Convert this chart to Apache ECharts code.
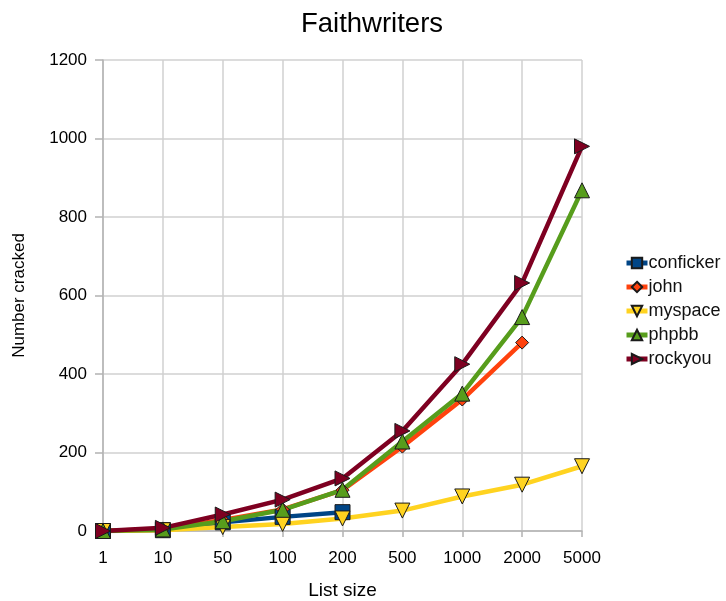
<!DOCTYPE html>
<html>
<head>
<meta charset="utf-8">
<script src="https://cdn.jsdelivr.net/npm/echarts@6/dist/echarts.min.js"></script>
<style>
  html, body { margin: 0; padding: 0; background: #fff; }
  #chart { width: 726px; height: 601px; }
</style>
</head>
<body>
<div id="chart"></div>
<script>
const listSizes = ['1', '10', '50', '100', '200', '500', '1000', '2000', '5000'];
const conficker = [0, 2, 22, 36, 48];
const john = [0, 5, 28, 55, 104, 215, 335, 480];
const myspace = [0, 2, 10, 18, 32, 52, 88, 118, 165];
const phpbb = [0, 4, 25, 54, 105, 228, 350, 545, 868];
const rockyou = [0, 8, 42, 80, 134, 255, 425, 632, 980];

const chart = echarts.init(document.getElementById('chart'));

function line(name, data, color, symbol, rotate) {
  return {
    name: name,
    type: 'line',
    data: data,
    symbol: symbol,
    symbolSize: symbol === 'diamond' ? 13 : 15,
    symbolRotate: rotate || 0,
    showAllSymbol: true,
    lineStyle: { color: color, width: 4.5 },
    itemStyle: { color: color, borderColor: '#1a1a1a', borderWidth: 1 },
    emphasis: { disabled: true },
    animation: false
  };
}

chart.setOption({
  backgroundColor: '#fff',
  textStyle: { fontFamily: 'Liberation Sans' },
  title: {
    text: 'Faithwriters',
    left: 367,
    textAlign: 'center',
    top: 5,
    textStyle: { fontSize: 27.5, fontWeight: 'normal', color: '#000', fontFamily: 'Liberation Sans' }
  },
  legend: {
    orient: 'vertical',
    left: 624,
    top: 254,
    padding: 0,
    itemGap: 6,
    itemWidth: 21,
    itemHeight: 13,
    lineStyle: { width: 5 },
    textStyle: { fontSize: 18, color: '#111', padding: [0, 0, 0, -4] },
    data: ['conficker', 'john', 'myspace', 'phpbb', 'rockyou']
  },
  grid: { left: 103, right: 144, top: 60, bottom: 70, outerBoundsMode: 'none' },
  xAxis: {
    type: 'category',
    data: listSizes,
    boundaryGap: false,
    name: 'List size',
    nameLocation: 'middle',
    nameGap: 50,
    nameTextStyle: { fontSize: 19, color: '#000' },
    axisLine: { lineStyle: { color: '#b3b3b3', width: 1.5 } },
    axisTick: { show: true, alignWithLabel: true, length: 6, lineStyle: { color: '#b3b3b3', width: 1.5 } },
    axisLabel: { fontSize: 17, color: '#000', margin: 19 },
    splitLine: { show: true, lineStyle: { color: '#d0d0d0', width: 1.5 } }
  },
  yAxis: {
    type: 'value',
    min: 0,
    max: 1200,
    interval: 200,
    name: 'Number cracked',
    nameLocation: 'middle',
    nameGap: 75,
    nameTextStyle: { fontSize: 17, color: '#000' },
    axisLine: { show: true, lineStyle: { color: '#b3b3b3', width: 1.5 } },
    axisTick: { show: true, length: 8, lineStyle: { color: '#b3b3b3', width: 1.5 } },
    axisLabel: { fontSize: 17, color: '#000', margin: 16, formatter: (v) => String(v) },
    splitLine: { show: true, lineStyle: { color: '#d0d0d0', width: 1.5 } }
  },
  series: [
    line('conficker', conficker, '#004586', 'rect'),
    line('john', john, '#ff420e', 'diamond'),
    line('myspace', myspace, '#ffd320', 'triangle', 180),
    line('phpbb', phpbb, '#579d1c', 'triangle'),
    line('rockyou', rockyou, '#7e0021', 'triangle', -90)
  ]
});
</script>
</body>
</html>
